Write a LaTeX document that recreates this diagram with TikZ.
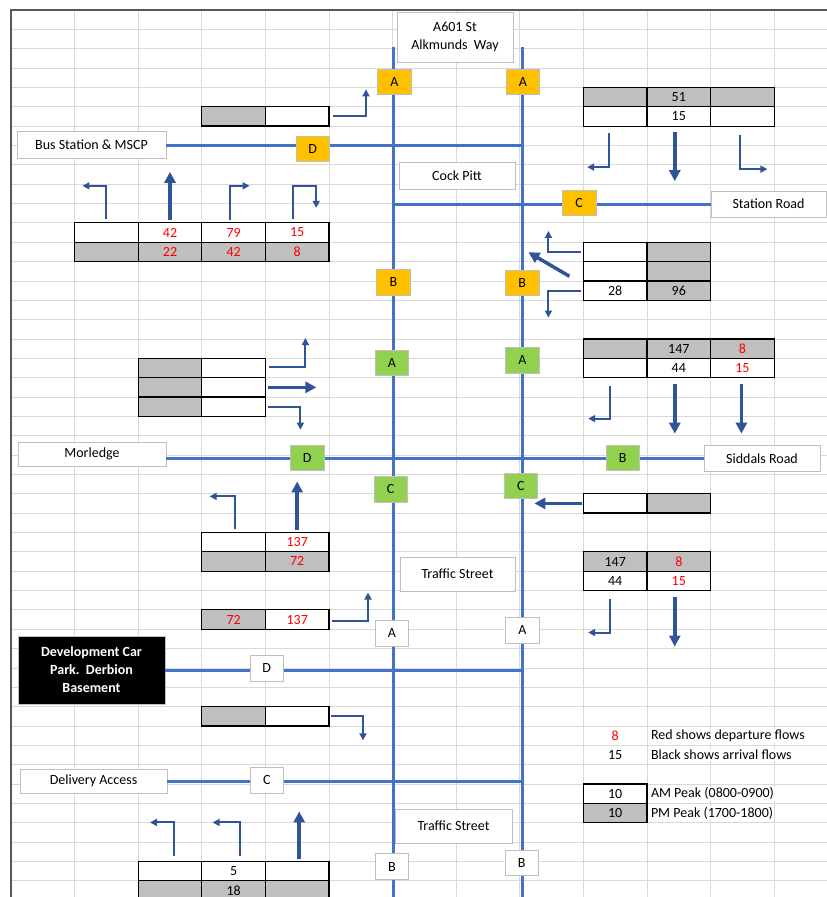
\documentclass[tikz,border=0pt]{standalone}
\usepackage{fontspec}
\setmainfont{Carlito}
\usetikzlibrary{arrows.meta,positioning}
\definecolor{roadblue}{HTML}{4472C4}
\definecolor{flowblue}{HTML}{2F5597}
\definecolor{pmgrey}{HTML}{BFBFBF}
\definecolor{gridgrey}{HTML}{D9D9D9}
\definecolor{jamber}{HTML}{FFC000}
\definecolor{jgreen}{HTML}{92D050}
\definecolor{depred}{HTML}{FF0000}

\begin{document}
\begin{tikzpicture}[x=1pt, y=-1pt,
  every node/.style={font=\fontsize{14}{17.5}\selectfont, inner sep=0pt, outer sep=0pt},
  road/.style={draw=roadblue, line width=3pt},
  lbl/.style={draw=pmgrey, fill=white, line width=0.8pt},
  jn/.style={draw=pmgrey, line width=0.8pt, minimum width=33.5pt, minimum height=25.5pt},
  amb/.style={jn, fill=jamber}, grn/.style={jn, fill=jgreen}, wht/.style={jn, fill=white},
  am/.style={draw=black, line width=1.2pt, fill=white, minimum width=63.6pt, minimum height=19.35pt},
  pm/.style={am, fill=pmgrey},
  dep/.style={text=depred},
  key/.style={anchor=west, fill=white, inner sep=1pt},
  flow/.style={draw=flowblue, line width=2pt, -{Triangle[length=7pt,width=7pt]}},
  bigflow/.style={draw=flowblue, line width=3.5pt, -{Triangle[length=11pt,width=11pt]}}]
\useasboundingbox (0,0) rectangle (827,897);
\clip (0,0) rectangle (827,897);

% sheet
\foreach \i in {0,...,13} \draw[gridgrey, line width=0.8pt] (11+63.6*\i,10) -- (11+63.6*\i,897);
\foreach \j in {0,...,46} \draw[gridgrey, line width=0.8pt] (11,10+19.35*\j) -- (827,10+19.35*\j);
\draw[black!65, line width=2pt] (11,897) -- (11,10) -- (827,10);

% road names
\node[lbl, minimum width=116pt, minimum height=50pt, align=center] (a601) at (455,37) {A601 St\\Alkmunds\ \ Way};
\node[lbl, minimum width=149pt, minimum height=27pt] (bus) at (91.5,145) {Bus Station \& MSCP};
\node[lbl, minimum width=116pt, minimum height=27pt] (cock) at (457,175.5) {Cock Pitt};
\node[lbl, minimum width=115pt, minimum height=26pt] (stn) at (768.5,204) {Station Road};
\node[lbl, minimum width=148pt, minimum height=24pt] (morl) at (92,454) {Morledge};
\node[lbl, minimum width=116pt, minimum height=26pt] (sidd) at (762,458.5) {Siddals Road};
\node[lbl, minimum width=115pt, minimum height=34pt] (trf1) at (457.5,574) {Traffic Street};
\node[draw=pmgrey, fill=black, text=white, font=\bfseries\fontsize{14}{18}\selectfont, align=center,
      minimum width=147pt, minimum height=68pt] (dev) at (91.5,670) {Development Car\\Park.\ \ Derbion\\Basement};
\node[lbl, minimum width=147pt, minimum height=24pt] (deliv) at (93.5,781) {Delivery Access};
\node[lbl, minimum width=117pt, minimum height=34pt] (trf2) at (453.5,826) {Traffic Street};

% roads
\coordinate (nL) at (393,47); \coordinate (sL) at (393,900);
\coordinate (nR) at (522,47); \coordinate (sR) at (522,900);
\draw[road] (nL) -- (sL);
\draw[road] (nR) -- (sR);
\draw[road] (bus.east) -- (bus.east -| nR);
\draw[road] (nL |- stn.west) -- (stn.west);
\draw[road] (morl.east |- sidd.west) -- (sidd.west);
\draw[road] (dev.east) -- (dev.east -| nR);
\draw[road] (deliv.east) -- (deliv.east -| nR);

% junction arms
\node[amb] (oA1) at (394.5,82) {A};
\node[amb] (oA2) at (523,82) {A};
\node[amb] (oD) at (312.7,149) {D};
\node[amb] (oC) at (579.2,203) {C};
\node[amb] (oB1) at (393.5,282.5) {B};
\node[amb] (oB2) at (522.3,282.7) {B};
\node[grn] (gA1) at (392,363) {A};
\node[grn] (gA2) at (522.3,360.3) {A};
\node[grn] (gD) at (307.2,458) {D};
\node[grn] (gB) at (622.7,458) {B};
\node[grn] (gC1) at (390.7,489.2) {C};
\node[grn] (gC2) at (520.8,486) {C};
\node[wht] (wA1) at (392,633.3) {A};
\node[wht] (wA2) at (522.3,630.3) {A};
\node[wht] (wD) at (266.8,668.2) {D};
\node[wht] (wC) at (266.8,780.2) {C};
\node[wht] (wB1) at (392,866.5) {B};
\node[wht] (wB2) at (521.7,862.7) {B};

% flow tables
\node[pm] (tA1) at (233.6,116.4) {};
\node[am, right=0pt of tA1] (tA2) {};

\node[am] (tB11) at (106.4,232.5) {};
\node[am, dep, right=0pt of tB11] (tB12) {42};
\node[am, dep, right=0pt of tB12] (tB13) {79};
\node[am, dep, right=0pt of tB13] (tB14) {15};
\node[pm, below=0pt of tB11] (tB21) {};
\node[pm, dep, right=0pt of tB21] (tB22) {22};
\node[pm, dep, right=0pt of tB22] (tB23) {42};
\node[pm, dep, right=0pt of tB23] (tB24) {8};

\node[pm] (tC11) at (615.2,97.1) {};
\node[pm, right=0pt of tC11] (tC12) {51};
\node[pm, right=0pt of tC12] (tC13) {};
\node[am, below=0pt of tC11] (tC21) {};
\node[am, right=0pt of tC21] (tC22) {15};
\node[am, right=0pt of tC22] (tC23) {};

\node[am] (tD11) at (615.2,251.9) {};
\node[pm, right=0pt of tD11] (tD12) {};
\node[am, below=0pt of tD11] (tD21) {};
\node[pm, right=0pt of tD21] (tD22) {};
\node[am, below=0pt of tD21] (tD31) {28};
\node[pm, right=0pt of tD31] (tD32) {96};

\node[pm] (tE11) at (170,368) {};
\node[am, right=0pt of tE11] (tE12) {};
\node[pm, below=0pt of tE11] (tE21) {};
\node[am, right=0pt of tE21] (tE22) {};
\node[pm, below=0pt of tE21] (tE31) {};
\node[am, right=0pt of tE31] (tE32) {};

\node[pm] (tF11) at (615.2,348.6) {};
\node[pm, right=0pt of tF11] (tF12) {147};
\node[pm, dep, right=0pt of tF12] (tF13) {8};
\node[am, below=0pt of tF11] (tF21) {};
\node[am, right=0pt of tF21] (tF22) {44};
\node[am, dep, right=0pt of tF22] (tF23) {15};

\node[am] (tG1) at (615.2,503.4) {};
\node[pm, right=0pt of tG1] (tG2) {};

\node[am] (tH11) at (233.6,542.1) {};
\node[am, dep, right=0pt of tH11] (tH12) {137};
\node[pm, below=0pt of tH11] (tH21) {};
\node[pm, dep, right=0pt of tH21] (tH22) {72};

\node[pm] (tI11) at (615.2,561.5) {147};
\node[pm, dep, right=0pt of tI11] (tI12) {8};
\node[am, below=0pt of tI11] (tI21) {44};
\node[am, dep, right=0pt of tI21] (tI22) {15};

\node[pm, dep] (tJ1) at (233.6,619.5) {72};
\node[am, dep, right=0pt of tJ1] (tJ2) {137};

\node[pm] (tK1) at (233.6,716.3) {};
\node[am, right=0pt of tK1] (tK2) {};

\node[am] (tL11) at (170,871.1) {};
\node[am, right=0pt of tL11] (tL12) {5};
\node[am, right=0pt of tL12] (tL13) {};
\node[pm, below=0pt of tL11] (tL21) {};
\node[pm, right=0pt of tL21] (tL22) {18};
\node[pm, right=0pt of tL22] (tL23) {};

% turning movements
\draw[flow] ([shift={(4,0)}]tA2.east) -| ++(33,-27);

\draw[flow] ([shift={(0,-4)}]tB11.north) |- ++(-24,-33);
\draw[bigflow] ([shift={(0,-3)}]tB12.north) -- ++(0,-48);
\draw[flow] ([shift={(-4,-3)}]tB13.north) |- ++(20,-34);
\draw[flow] ([shift={(-4,-4)}]tB14.north) |- ++(23,-33) -- ++(0,22);

\draw[flow] ([shift={(-6,7)}]tC21.south) |- ++(-22,34);
\draw[bigflow] ([shift={(-4,6)}]tC22.south) -- ++(0,49);
\draw[flow] ([shift={(-2,9)}]tC23.south) |- ++(27,34);

\draw[flow] ([shift={(-2,0)}]tD11.west) -| ++(-33,-21);
\draw[bigflow] ([shift={(-14,5)}]tD21.west) -- ++(-41,-24);
\draw[flow] ([shift={(-2,0)}]tD31.west) -| ++(-33,27);

\draw[flow] ([shift={(4,-1)}]tE12.east) -| ++(36,-29);
\draw[bigflow] ([shift={(3,0)}]tE22.east) -- ++(48,0);
\draw[flow] ([shift={(3,0)}]tE32.east) -| ++(32,23);

\draw[flow] ([shift={(-5,8)}]tF21.south) |- ++(-22,33);
\draw[bigflow] ([shift={(-4,6)}]tF22.south) -- ++(0,50);
\draw[bigflow] ([shift={(-1,6)}]tF23.south) -- ++(0,50);

\draw[bigflow] ([shift={(-1,0)}]tG1.west) -- ++(-48,0);

\draw[flow] ([shift={(1,-3)}]tH11.north) |- ++(-25,-33);
\draw[bigflow] ([shift={(0,-2)}]tH12.north) -- ++(0,-49);

\draw[flow] ([shift={(-5,8)}]tI21.south) |- ++(-22,34);
\draw[bigflow] ([shift={(-4,6)}]tI22.south) -- ++(0,50);

\draw[flow] ([shift={(3,1)}]tJ2.east) -| ++(36,-28);

\draw[flow] ([shift={(2,0)}]tK2.east) -| ++(32,24);

\draw[flow] ([shift={(4,-5)}]tL11.north) |- ++(-24,-34);
\draw[flow] ([shift={(6,-5)}]tL12.north) |- ++(-27,-34);
\draw[bigflow] ([shift={(2,-2)}]tL13.north) -- ++(0,-48);

% key
\node[dep] (k8) at (615.2,735.6) {8};
\node (k15) at (615.2,755) {15};
\node[key] (kred) at (650,735.6) {Red shows departure flows};
\node[key] (kblk) at (650,755) {Black shows arrival flows};
\node[am] (kam) at (615.2,793.7) {10};
\node[pm, below=0pt of kam] (kpm) {10};
\node[key] (kamt) at (650,793.7) {AM Peak (0800-0900)};
\node[key] (kpmt) at (650,813) {PM Peak (1700-1800)};
\end{tikzpicture}
\end{document}
